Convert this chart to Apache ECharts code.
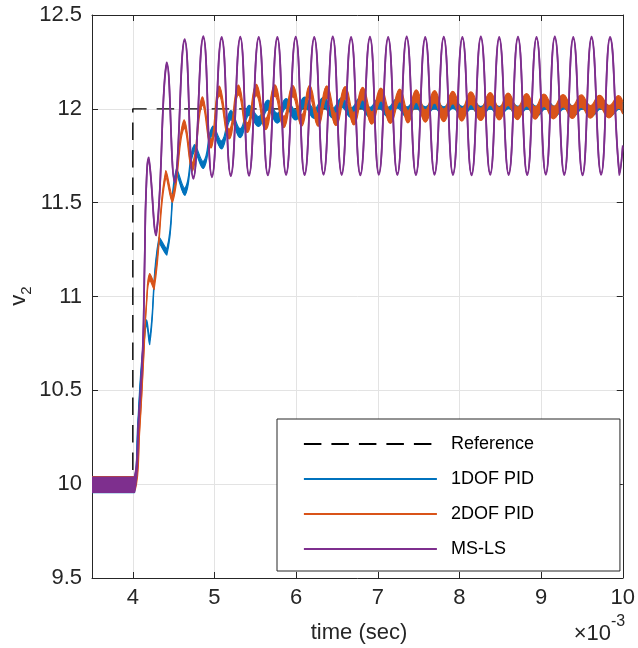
<!DOCTYPE html>
<html><head><meta charset="utf-8">
<script src="https://cdn.jsdelivr.net/npm/echarts@6/dist/echarts.min.js"></script>
<style>html,body{margin:0;padding:0;background:#fff}#c{width:638px;height:648px}</style>
</head><body><div id="c"></div>
<script>
// ---------- data (time in ms, i.e. x10^-3 s; voltage v2) ----------
const xTickLabels = [4, 5, 6, 7, 8, 9, 10];
const yTickLabels = [9.5, 10, 10.5, 11, 11.5, 12, 12.5];
const seriesNames = ['Reference', '1DOF PID', '2DOF PID', 'MS-LS'];

const refT = [3.5, 4.0, 4.0, 10.0];
const refV = [10, 10, 12, 12];

// 1DOF PID: centre of the ripple band and half-thickness of the band
const pidT = [3.5, 4.02, 4.06, 4.10, 4.14, 4.168, 4.206, 4.321, 4.416, 4.534, 4.638, 4.754, 4.863, 4.979, 5.088, 5.200, 5.316, 5.423, 5.542, 5.654, 5.770, 5.877, 5.995, 6.104, 6.222, 6.336, 6.449, 6.558, 6.673, 6.786, 6.904, 7.013, 7.127, 7.240, 7.354, 7.467, 7.581, 7.695, 7.808, 7.921, 8.036, 8.149, 8.262, 8.377, 8.487, 8.603, 8.717, 8.830, 8.944, 9.058, 9.168, 9.284, 9.394, 9.508, 9.618, 9.735, 9.844, 9.959, 10.0];
const pidV = [9.992, 9.992, 10.30, 10.60, 10.78, 10.86, 10.758, 11.30, 11.237, 11.664, 11.557, 11.791, 11.70, 11.887, 11.807, 11.967, 11.87, 11.993, 11.932, 12.02, 11.95, 12.029, 11.967, 12.036, 11.975, 12.035, 11.978, 12.033, 11.980, 12.032, 11.982, 12.030, 11.983, 12.030, 11.984, 12.029, 11.985, 12.028, 11.985, 12.028, 11.986, 12.027, 11.986, 12.027, 11.986, 12.027, 11.987, 12.026, 11.987, 12.026, 11.987, 12.026, 11.988, 12.025, 11.988, 12.025, 11.988, 12.025, 12.0];
const pidS = [0.037, 0.037, 0.02, 0.015, 0.015, 0.015, 0.015, 0.016, 0.016, 0.016, 0.018, 0.018, 0.018, 0.021, 0.021, 0.024, 0.024, 0.026, 0.026, 0.026, 0.026, 0.026, 0.026, 0.026, 0.026, 0.026, 0.026, 0.026, 0.026, 0.026, 0.026, 0.026, 0.026, 0.026, 0.026, 0.026, 0.026, 0.026, 0.026, 0.026, 0.026, 0.026, 0.026, 0.026, 0.026, 0.026, 0.026, 0.026, 0.026, 0.026, 0.026, 0.026, 0.026, 0.026, 0.026, 0.026, 0.026, 0.026, 0.026];

// 2DOF PID
const dofT = [3.5, 4.03, 4.085, 4.133, 4.17, 4.206, 4.261, 4.404, 4.486, 4.628, 4.729, 4.851, 4.957, 5.058, 5.179, 5.293, 5.402, 5.512, 5.626, 5.739, 5.849, 5.958, 6.068, 6.165, 6.270, 6.376, 6.488, 6.600, 6.707, 6.814, 6.926, 7.038, 7.154, 7.269, 7.370, 7.471, 7.583, 7.695, 7.807, 7.918, 8.029, 8.140, 8.259, 8.377, 8.487, 8.596, 8.709, 8.822, 8.928, 9.034, 9.152, 9.269, 9.380, 9.491, 9.603, 9.715, 9.831, 9.946, 10.0];
const dofV = [10.005, 10.005, 10.30, 10.68, 10.98, 11.104, 11.056, 11.653, 11.52, 11.919, 11.69, 12.042, 11.813, 12.095, 11.866, 12.10, 11.90, 12.10, 11.919, 12.098, 11.93, 12.095, 11.938, 12.092, 11.94, 12.09, 11.943, 12.086, 11.947, 12.082, 11.951, 12.077, 11.955, 12.072, 11.958, 12.068, 11.962, 12.064, 11.965, 12.06, 11.968, 12.057, 11.971, 12.054, 11.974, 12.051, 11.976, 12.048, 11.978, 12.046, 11.980, 12.043, 11.982, 12.041, 11.984, 12.039, 11.985, 12.037, 12.005];
const dofS = [0.035, 0.035, 0.012, 0.012, 0.012, 0.018, 0.018, 0.018, 0.018, 0.022, 0.022, 0.022, 0.022, 0.026, 0.026, 0.026, 0.026, 0.03, 0.03, 0.03, 0.03, 0.03, 0.03, 0.033, 0.033, 0.033, 0.033, 0.033, 0.033, 0.033, 0.033, 0.033, 0.033, 0.033, 0.033, 0.033, 0.033, 0.033, 0.033, 0.033, 0.033, 0.033, 0.033, 0.033, 0.033, 0.033, 0.033, 0.033, 0.033, 0.033, 0.033, 0.033, 0.033, 0.033, 0.033, 0.033, 0.033, 0.033, 0.033];

// MS-LS
const mslsT = [3.5, 4.02, 4.072, 4.121, 4.145, 4.163, 4.194, 4.285, 4.416, 4.514, 4.635, 4.741, 4.863, 4.969, 5.088, 5.200, 5.316, 5.423, 5.542, 5.654, 5.770, 5.877, 5.995, 6.104, 6.222, 6.336, 6.449, 6.558, 6.673, 6.786, 6.904, 7.013, 7.127, 7.240, 7.354, 7.467, 7.581, 7.695, 7.808, 7.921, 8.036, 8.149, 8.262, 8.377, 8.487, 8.603, 8.717, 8.830, 8.944, 9.058, 9.168, 9.284, 9.394, 9.508, 9.618, 9.735, 9.844, 9.959, 10.0];
const mslsV = [9.997, 9.997, 10.34, 10.715, 11.195, 11.567, 11.736, 11.33, 12.243, 11.612, 12.367, 11.632, 12.382, 11.640, 12.378, 11.646, 12.380, 11.648, 12.379, 11.650, 12.378, 11.652, 12.380, 11.651, 12.379, 11.653, 12.381, 11.652, 12.378, 11.650, 12.380, 11.653, 12.379, 11.652, 12.381, 11.651, 12.378, 11.653, 12.380, 11.652, 12.379, 11.650, 12.381, 11.653, 12.378, 11.652, 12.380, 11.651, 12.379, 11.653, 12.381, 11.652, 12.378, 11.650, 12.380, 11.653, 12.379, 11.652, 11.80];
const mslsS = [0.039, 0.039, 0.012, 0.005, 0.005, 0.005, 0.005, 0.005, 0.005, 0.005, 0.005, 0.005, 0.005, 0.005, 0.005, 0.005, 0.005, 0.005, 0.005, 0.005, 0.005, 0.005, 0.005, 0.005, 0.005, 0.005, 0.005, 0.005, 0.005, 0.005, 0.005, 0.005, 0.005, 0.005, 0.005, 0.005, 0.005, 0.005, 0.005, 0.005, 0.005, 0.005, 0.005, 0.005, 0.005, 0.005, 0.005, 0.005, 0.005, 0.005, 0.005, 0.005, 0.005, 0.005, 0.005, 0.005, 0.005, 0.005, 0.005];

// ---------- chart ----------
const FONT = '"Liberation Sans", Arial, Helvetica, sans-serif';
const AX = '#262626';
const GRIDC = '#e3e3e3';
const C_PID = '#0072BD', C_DOF = '#D95319', C_MS = '#7E2F8E';

function clampTo(v, a, b) { return Math.min(Math.max(v, Math.min(a, b)), Math.max(a, b)); }
// control points of a smooth curve through pixel points (no overshoot between neighbours)
function controlPoints(pts, k) {
  const n = pts.length, out = [];
  for (let i = 0; i < n; i++) {
    const p = pts[i];
    if (i === 0 || i === n - 1) { out.push([p, p]); continue; }
    const a = pts[i - 1], b = pts[i + 1];
    const vx = (b[0] - a[0]) * k, vy = (b[1] - a[1]) * k;
    const d0 = Math.hypot(p[0] - a[0], p[1] - a[1]), d1 = Math.hypot(b[0] - p[0], b[1] - p[1]);
    const s = (d0 + d1) || 1;
    const cin = [clampTo(p[0] - vx * d0 / s, a[0], p[0]), clampTo(p[1] - vy * d0 / s, a[1], p[1])];
    const cout = [clampTo(p[0] + vx * d1 / s, p[0], b[0]), clampTo(p[1] + vy * d1 / s, p[1], b[1])];
    out.push([cin, cout]);
  }
  return out;
}
function f(p) { return p[0].toFixed(2) + ' ' + p[1].toFixed(2); }
function curveForward(pts, cp) {
  let d = '';
  for (let i = 1; i < pts.length; i++) d += ' C' + f(cp[i - 1][1]) + ' ' + f(cp[i][0]) + ' ' + f(pts[i]);
  return d;
}
function curveBackward(pts, cp) {
  let d = '';
  for (let i = pts.length - 2; i >= 0; i--) d += ' C' + f(cp[i + 1][0]) + ' ' + f(cp[i][1]) + ' ' + f(pts[i]);
  return d;
}

// ripple band drawn through the cartesian scales (api.coord)
function bandSeries(name, color, T, V, S, w) {
  return {
    name: name + ' band', type: 'custom', coordinateSystem: 'cartesian2d',
    silent: true, animation: false, z: 3,
    data: [[T[0], V[0]]],
    renderItem: function (params, api) {
      const up = T.map((t, i) => api.coord([t, V[i] + S[i]]));
      const lo = T.map((t, i) => api.coord([t, V[i] - S[i]]));
      const cu = controlPoints(up, 0.5), cl = controlPoints(lo, 0.5);
      const upD = 'M' + f(up[0]) + curveForward(up, cu);
      const loD = 'M' + f(lo[0]) + curveForward(lo, cl);
      const areaD = upD + ' L' + f(lo[lo.length - 1]) + curveBackward(lo, cl) + ' Z';
      return {type: 'group', children: [
        {type: 'path', shape: {pathData: areaD}, style: {fill: color, stroke: null}},
        {type: 'path', shape: {pathData: upD}, style: {stroke: color, lineWidth: w, fill: null, lineJoin: 'round'}},
        {type: 'path', shape: {pathData: loD}, style: {stroke: color, lineWidth: w, fill: null, lineJoin: 'round'}}
      ]};
    }
  };
}
// empty line series: only provide legend entries
function legendOnly(name, color) {
  return {name: name, type: 'line', data: [], symbol: 'none', animation: false,
    lineStyle: {color: color, width: 1.8}, itemStyle: {color: color}};
}

const series = [{
  name: seriesNames[0], type: 'line', symbol: 'none', showSymbol: false, animation: false, silent: true, z: 2,
  data: refT.map((t, i) => [t, refV[i]]),
  lineStyle: {color: '#000', width: 1.4, type: [17.5, 10]}, itemStyle: {color: '#000'}
},
  bandSeries(seriesNames[1], C_PID, pidT, pidV, pidS, 1.2),
  bandSeries(seriesNames[2], C_DOF, dofT, dofV, dofS, 1.2),
  bandSeries(seriesNames[3], C_MS, mslsT, mslsV, mslsS, 1.7),
  legendOnly(seriesNames[1], C_PID),
  legendOnly(seriesNames[2], C_DOF),
  legendOnly(seriesNames[3], C_MS)
];

const chart = echarts.init(document.getElementById('c'), null, {renderer: 'canvas'});
chart.setOption({
  animation: false,
  backgroundColor: '#fff',
  textStyle: {fontFamily: FONT},
  grid: {left: 92, right: 12, top: 15, bottom: 70, containLabel: false},
  xAxis: [{
    type: 'value', position: 'bottom', min: 3.5, max: 10, splitNumber: 6,
    axisLine: {show: true, onZero: false, lineStyle: {color: AX, width: 1}},
    axisTick: {show: true, inside: true, length: 6, lineStyle: {color: AX}},
    axisLabel: {showMinLabel: false, color: AX, fontSize: 22, margin: 9, fontFamily: FONT,
      formatter: v => (xTickLabels.indexOf(v) >= 0 ? String(v) : '')},
    splitLine: {show: true, lineStyle: {color: GRIDC, width: 1}}
  }, {
    type: 'value', position: 'top', min: 3.5, max: 10, splitNumber: 6,
    axisLine: {show: true, onZero: false, lineStyle: {color: AX, width: 1}},
    axisTick: {show: true, inside: true, length: 6, lineStyle: {color: AX}},
    axisLabel: {show: false}, splitLine: {show: false}
  }],
  yAxis: [{
    type: 'value', position: 'left', min: 9.5, max: 12.5, interval: 0.5,
    axisLine: {show: true, onZero: false, lineStyle: {color: AX, width: 1}},
    axisTick: {show: true, inside: true, length: 6, lineStyle: {color: AX}},
    axisLabel: {color: AX, fontSize: 22, margin: 10, fontFamily: FONT,
      formatter: v => (yTickLabels.indexOf(v) >= 0 ? String(v) : '')},
    splitLine: {show: true, lineStyle: {color: GRIDC, width: 1}}
  }, {
    type: 'value', position: 'right', min: 9.5, max: 12.5, interval: 0.5,
    axisLine: {show: true, onZero: false, lineStyle: {color: AX, width: 1}},
    axisTick: {show: true, inside: true, length: 6, lineStyle: {color: AX}},
    axisLabel: {show: false}, splitLine: {show: false}
  }],
  legend: {
    data: seriesNames, orient: 'vertical', left: 277, top: 419, z: 10,
    padding: [15, 86, 12, 26], itemWidth: 133, itemHeight: 20, itemGap: 15,
    backgroundColor: '#fff', borderColor: AX, borderWidth: 1, borderRadius: 0,
    selectedMode: false,
    itemStyle: {opacity: 0},
    lineStyle: {width: 1.8},
    textStyle: {fontSize: 18, color: '#000', fontFamily: FONT, lineHeight: 20, padding: [0, 0, 0, 9]}
  },
  graphic: [
    {type: 'text', x: 359, y: 633, silent: true,
      style: {text: 'time (sec)', font: '22px ' + FONT, fill: AX, align: 'center', verticalAlign: 'middle'}},
    {type: 'text', x: 611, y: 634, silent: true,
      style: {text: '\u00d710', font: '22px ' + FONT, fill: AX, align: 'right', verticalAlign: 'middle'}},
    {type: 'text', x: 611, y: 622, silent: true,
      style: {text: '-3', font: '16px ' + FONT, fill: AX, align: 'left', verticalAlign: 'middle'}},
    {type: 'text', x: 19, y: 296, rotation: Math.PI / 2, silent: true,
      style: {text: '{v|v}{s|2}', align: 'center', verticalAlign: 'middle', fill: AX,
        rich: {v: {fontSize: 22, fontFamily: FONT, lineHeight: 30, fill: AX, color: AX},
               s: {fontSize: 15, fontFamily: FONT, lineHeight: 15, verticalAlign: 'bottom', fill: AX, color: AX}}}}
  ],
  series: series
});
</script></body></html>
